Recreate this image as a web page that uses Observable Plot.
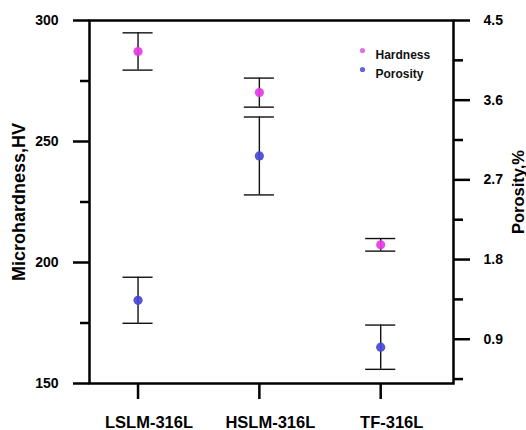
<!DOCTYPE html>
<html>
<head>
<meta charset="utf-8">
<script src="https://cdn.jsdelivr.net/npm/d3@7"></script>
<script src="https://cdn.jsdelivr.net/npm/@observablehq/plot@0.6"></script>
<style>
  html, body { margin: 0; padding: 0; background: #fff; }
  #chart svg { display: block; }
</style>
</head>
<body>
<div id="chart"></div>
<script>
// ---- data ----
const categories = ["LSLM-316L", "HSLM-316L", "TF-316L"];
const hardness = [287.2, 270.2, 207.3];
const hardnessErr = [7.7, 6.0, 2.6];
const porosity = [1.34, 2.97, 0.81];
const porosityErr = [0.26, 0.44, 0.25];
const leftTicks = [150, 200, 250, 300];
const leftMinorTicks = [175, 225, 275];
const rightTicks = [0.9, 1.8, 2.7, 3.6, 4.5];
const rightMinorTicks = [0.45, 1.35, 2.25, 3.15, 4.05];
const hardnessDomain = [150, 300];
const porosityDomain = [0.4, 4.5];
const seriesNames = ["Hardness", "Porosity"];

// ---- secondary axis mapping ----
const toH = p => hardnessDomain[0] + (p - porosityDomain[0]) / (porosityDomain[1] - porosityDomain[0]) * (hardnessDomain[1] - hardnessDomain[0]);
const fromH = h => porosityDomain[0] + (h - hardnessDomain[0]) / (hardnessDomain[1] - hardnessDomain[0]) * (porosityDomain[1] - porosityDomain[0]);

const colors = {Hardness: "#e83ae8", Porosity: "#4848d8"};
const legendColors = {Hardness: "#e070e8", Porosity: "#6464d8"};

const rows = [];
categories.forEach((c, i) => {
  rows.push({x: i + 1, series: "Hardness", v: hardness[i], lo: hardness[i] - hardnessErr[i], hi: hardness[i] + hardnessErr[i]});
  rows.push({x: i + 1, series: "Porosity", v: toH(porosity[i]), lo: toH(porosity[i] - porosityErr[i]), hi: toH(porosity[i] + porosityErr[i])});
});
const cap = 0.124;
const font = "Liberation Sans, Arial, Helvetica, sans-serif";

const legendMarks = seriesNames.flatMap((s, k) => [
  Plot.dot([s], {frameAnchor: "top-right", dx: -91, dy: 30 + 19 * k, r: 2.6, fill: legendColors[s], stroke: "none"}),
  Plot.text([s], {frameAnchor: "top-right", dx: -78, dy: 30 + 19 * k, text: d => d, textAnchor: "start", fontSize: 12, fontWeight: "bold", fill: "#111"})
]);

const chart = Plot.plot({
  width: 526,
  height: 430,
  marginLeft: 89,
  marginRight: 73,
  marginTop: 20,
  marginBottom: 47,
  style: {fontFamily: font, background: "#fff", color: "#000"},
  x: {type: "linear", domain: [0.6, 3.6]},
  y: {domain: hardnessDomain},
  marks: [
    // error bars
    Plot.ruleX(rows, {x: "x", y1: "lo", y2: "hi", stroke: "#111", strokeWidth: 1.4}),
    Plot.ruleY(rows, {y: "hi", x1: d => d.x - cap, x2: d => d.x + cap, stroke: "#111", strokeWidth: 1.4}),
    Plot.ruleY(rows, {y: "lo", x1: d => d.x - cap, x2: d => d.x + cap, stroke: "#111", strokeWidth: 1.4}),
    Plot.dot(rows, {x: "x", y: "v", r: 4.6, fill: d => colors[d.series], fillOpacity: 0.92, stroke: "none"}),
    // left axis
    Plot.axisY({ticks: leftTicks, tickSize: 16, strokeWidth: 2.5, tickPadding: 15, tickFormat: d => d, fontSize: 14, fontWeight: "bold", label: null}),
    Plot.axisY({ticks: leftMinorTicks, tickSize: 9, strokeWidth: 2.5, tickFormat: () => "", label: null}),
    // right axis
    Plot.axisY({anchor: "right", ticks: rightTicks.map(toH), tickSize: 16, strokeWidth: 2.5, tickPadding: 14, tickFormat: h => fromH(h).toFixed(1), fontSize: 14, fontWeight: "bold", label: null}),
    Plot.axisY({anchor: "right", ticks: rightMinorTicks.map(toH), tickSize: 9, strokeWidth: 2.5, tickFormat: () => "", label: null}),
    // bottom axis: ticks, then labels
    Plot.axisX({ticks: [1, 2, 3], tickSize: 16, strokeWidth: 2.5, tickFormat: () => "", label: null}),
    Plot.axisX({ticks: [1, 2, 3], tickSize: 0, tickPadding: 33, tickFormat: i => categories[i - 1], fontSize: 16.5, fontWeight: "bold", label: null, dx: 11}),
    Plot.frame({stroke: "#000", strokeWidth: 2.5}),
    // axis titles
    Plot.text(["Microhardness,HV"], {frameAnchor: "left", dx: -70.5, rotate: -90, textAnchor: "middle", text: d => d, fontSize: 18, fontWeight: "bold", fill: "#000"}),
    Plot.text(["Porosity,%"], {frameAnchor: "right", dx: 65, dy: -10, rotate: -90, textAnchor: "middle", text: d => d, fontSize: 16.5, fontWeight: "bold", fill: "#000"}),
    ...legendMarks
  ]
});
document.getElementById("chart").appendChild(chart);
</script>
</body>
</html>
